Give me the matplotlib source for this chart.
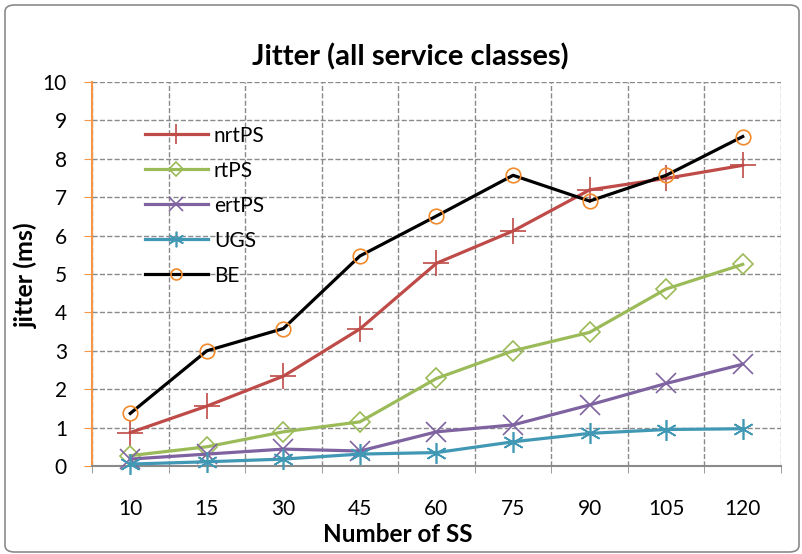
"""
Jitter vs number of subscriber stations, for the five WiMAX service classes.
Excel-like line chart with dashed grid and a rounded figure frame.
"""
import numpy as np
import matplotlib.pyplot as plt
from matplotlib.patches import FancyBboxPatch

plt.rcParams["font.family"] = ["Lato", "DejaVu Sans"]

ss_labels = ["10", "15", "30", "45", "60", "75", "90", "105", "120"]

nrtps = [0.87, 1.56, 2.34, 3.57, 5.28, 6.12, 7.19, 7.49, 7.83]
rtps = [0.27, 0.50, 0.89, 1.15, 2.28, 3.00, 3.48, 4.61, 5.25]
ertps = [0.18, 0.31, 0.44, 0.39, 0.89, 1.07, 1.59, 2.15, 2.65]
ugs = [0.05, 0.11, 0.18, 0.31, 0.35, 0.63, 0.85, 0.95, 0.97]
be = [1.37, 3.00, 3.58, 5.47, 6.51, 7.57, 6.90, 7.57, 8.58]

# name, values, line colour, marker, marker size, marker colour
series = [
    ("nrtPS", nrtps, "#BE4B48", "+", 19, "#BE4B48"),
    ("rtPS", rtps, "#9BBB59", "D", 10, "#9BBB59"),
    ("ertPS", ertps, "#7F63A1", "x", 14, "#7F63A1"),
    ("UGS", ugs, "#4198B5", (6, 2, 0), 15, "#4198B5"),
    ("BE", be, "#000000", "o", 10.5, "#F08A2C"),
]

fig = plt.figure(figsize=(8.03, 5.54), dpi=100)
ax = fig.add_axes([92 / 803, 88 / 554, 689 / 803, 384 / 554])

x = np.arange(len(ss_labels))
for name, vals, col, mk, ms, mcol in series:
    ax.plot(x, vals, color=col, lw=2.3, marker=mk, markersize=ms,
            markerfacecolor="none", markeredgecolor=mcol, markeredgewidth=1.2,
            label=name, clip_on=False, zorder=3)

ax.set_xlim(-0.5, len(ss_labels) - 0.5)
ax.set_ylim(0, 10)
ax.set_yticks(range(0, 11))
ax.set_xticks(x)
ax.set_xticklabels(ss_labels)
ax.set_xticks(np.arange(-0.5, len(ss_labels)), minor=True)

ax.grid(True, which="major", axis="y", ls="--", color="#8a8a8a", lw=1)
ax.grid(True, which="minor", axis="x", ls="--", color="#8a8a8a", lw=1)
ax.set_axisbelow(True)

ax.tick_params(axis="x", which="major", length=0, pad=24, labelsize=15)
ax.tick_params(axis="x", which="minor", length=5, color="#8a8a8a", direction="out")
ax.tick_params(axis="y", length=6, color="#F79646", labelsize=15, pad=12)

for s in ("top", "right"):
    ax.spines[s].set_visible(False)
ax.spines["left"].set_color("#F79646")
ax.spines["left"].set_linewidth(1.5)
ax.spines["bottom"].set_color("#8a8a8a")
ax.spines["bottom"].set_linewidth(1.5)

fig.text(410 / 803, 1 - 57 / 554, "Jitter (all service classes)",
         fontsize=21, fontweight="bold", ha="center", va="center")
ax.set_ylabel("jitter (ms)", fontsize=18, fontweight="bold")
ax.yaxis.set_label_coords((38 - 92) / 689, (466 - 275) / 384)
ax.set_xlabel("Number of SS", fontsize=17.5, fontweight="bold")
ax.xaxis.set_label_coords((398 - 92) / 689, (466 - 523) / 384)

ax.legend(loc="upper left", bbox_to_anchor=(0.05, 0.935), frameon=False,
          fontsize=15, handlelength=3.0, labelspacing=0.72, handletextpad=0.3,
          markerscale=0.75)

frame = FancyBboxPatch((5 / 803, 2 / 554), 794 / 803, 547 / 554,
                       boxstyle="round,pad=0,rounding_size=0.012",
                       transform=fig.transFigure, fill=False,
                       edgecolor="#8a8a8a", lw=1.2)
fig.patches.append(frame)

fig.savefig("out.png", dpi=100)
